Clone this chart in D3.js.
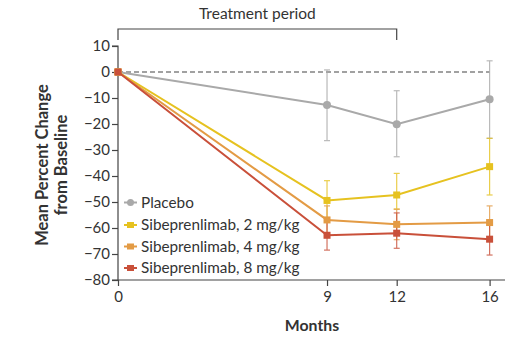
<!DOCTYPE html>
<html><head><meta charset="utf-8">
<script src="https://cdn.jsdelivr.net/npm/d3@7"></script>
<style>body{margin:0;background:#fff}svg{display:block}</style>
</head><body>
<svg id="c" width="517" height="341"></svg>
<script>
const months = [0, 9, 12, 16];
const xTicks = [0, 9, 12, 16];
const yTicks = [10, 0, -10, -20, -30, -40, -50, -60, -70, -80];
const seriesNames = ["Placebo", "Sibeprenlimab, 2 mg/kg", "Sibeprenlimab, 4 mg/kg", "Sibeprenlimab, 8 mg/kg"];
const placebo = [0, -12.7, -20.1, -10.5];
const placeboLo = [0, -26.4, -32.6, -25.5];
const placeboHi = [0, 0.8, -7.2, 4.3];
const mg2 = [0, -49.4, -47.3, -36.4];
const mg2Lo = [0, -57, -52.7, -47.3];
const mg2Hi = [0, -41.8, -39.0, -25.5];
const mg4 = [0, -56.9, -58.6, -57.9];
const mg4Lo = [0, -62.5, -64.5, -64.5];
const mg4Hi = [0, -51.5, -52.8, -51.5];
const mg8 = [0, -62.8, -62.0, -64.3];
const mg8Lo = [0, -68.5, -67.8, -70.4];
const mg8Hi = [0, -57.5, -54.2, -58.5];
const colors = ["#a9a9a9", "#e6c220", "#e39b45", "#c9503a"];

const svg = d3.select("#c");
const x = d3.scaleLinear().domain([0, 16]).range([118, 489.6]);
const y = d3.scaleLinear().domain([10, -80]).range([46, 280]);
const font = "Lato, 'Open Sans', sans-serif";
const axisColor = "#444";

// treatment bracket
svg.append("path").attr("d", `M${x(0)},40V29H${x(12)}V40`).attr("fill","none").attr("stroke",axisColor).attr("stroke-width",1.2);
svg.append("text").attr("x",(x(0)+x(12))/2).attr("y",19).attr("text-anchor","middle")
  .attr("font-family",font).attr("font-size",15.5).attr("fill","#333").text("Treatment period");

// y axis
const yAxis = d3.axisLeft(y).tickValues(yTicks).tickSize(6).tickPadding(2).tickFormat(d => d < 0 ? "\u2212" + Math.abs(d) : d);
const ya = svg.append("g").attr("transform","translate(118,0)").call(yAxis);
ya.select(".domain").attr("d", `M-6,${y(10)}H0V${y(-80)}H-6`).attr("stroke",axisColor).attr("stroke-width",1.2);
ya.selectAll(".tick line").attr("stroke",axisColor).attr("stroke-width",1.2);
ya.selectAll(".tick text").attr("font-family",font).attr("font-size",15).attr("fill","#333");

// x axis
const xAxis = d3.axisBottom(x).tickValues(xTicks).tickSize(6).tickPadding(5);
const xa = svg.append("g").attr("transform",`translate(0,${y(-80)})`).call(xAxis);
xa.select(".domain").attr("d", `M118,0H505`).attr("stroke",axisColor).attr("stroke-width",1.2);
xa.selectAll(".tick line").attr("stroke",axisColor).attr("stroke-width",1.2);
xa.selectAll(".tick text").attr("font-family",font).attr("font-size",15).attr("fill","#333");

// labels
svg.append("text").attr("transform",`translate(48,165) rotate(-90)`).attr("text-anchor","middle")
  .attr("font-family",font).attr("font-weight","bold").attr("font-size",16.5).attr("fill","#333").text("Mean Percent Change");
svg.append("text").attr("transform",`translate(67,165) rotate(-90)`).attr("text-anchor","middle")
  .attr("font-family",font).attr("font-weight","bold").attr("font-size",16.5).attr("fill","#333").text("from Baseline");
svg.append("text").attr("x",312).attr("y",331).attr("text-anchor","middle")
  .attr("font-family",font).attr("font-weight","bold").attr("font-size",15.8).attr("fill","#333").text("Months");

// dashed zero line
svg.append("line").attr("x1",x(0)).attr("x2",x(16)).attr("y1",y(0)).attr("y2",y(0))
  .attr("stroke","#444").attr("stroke-width",1.1).attr("stroke-dasharray","5,3");

const series = [
  {v: placebo, lo: placeboLo, hi: placeboHi},
  {v: mg2, lo: mg2Lo, hi: mg2Hi},
  {v: mg4, lo: mg4Lo, hi: mg4Hi},
  {v: mg8, lo: mg8Lo, hi: mg8Hi}
];
const line = d3.line().x((d,i)=>x(months[i])).y(d=>y(d));

// error bars
series.forEach((s,k)=>{
  const g = svg.append("g").attr("stroke",colors[k]).attr("stroke-width",1.2).attr("opacity",0.8);
  months.forEach((m,i)=>{
    if (i===0) return;
    g.append("line").attr("x1",x(m)).attr("x2",x(m)).attr("y1",y(s.lo[i])).attr("y2",y(s.hi[i]));
    g.append("line").attr("x1",x(m)-3).attr("x2",x(m)+3).attr("y1",y(s.lo[i])).attr("y2",y(s.lo[i]));
    g.append("line").attr("x1",x(m)-3).attr("x2",x(m)+3).attr("y1",y(s.hi[i])).attr("y2",y(s.hi[i]));
  });
});

// lines and markers
series.forEach((s,k)=>{
  svg.append("path").datum(s.v).attr("d",line).attr("fill","none").attr("stroke",colors[k]).attr("stroke-width",2);
  s.v.forEach((d,i)=>{
    if (k===0) svg.append("circle").attr("cx",x(months[i])).attr("cy",y(d)).attr("r",4).attr("fill",colors[k]);
    else svg.append("rect").attr("x",x(months[i])-3.5).attr("y",y(d)-3.5).attr("width",7).attr("height",7).attr("fill",colors[k]);
  });
});

// legend
const ly = [202.5, 225, 246.5, 268];
seriesNames.forEach((n,k)=>{
  const g = svg.append("g").attr("transform",`translate(0,${ly[k]})`);
  g.append("line").attr("x1",124).attr("x2",137).attr("stroke",colors[k]).attr("stroke-width",2);
  if (k===0) g.append("circle").attr("cx",130.5).attr("cy",0).attr("r",3.5).attr("fill",colors[k]);
  else g.append("rect").attr("x",127).attr("y",-3).attr("width",7).attr("height",6).attr("fill",colors[k]);
  g.append("text").attr("x",141).attr("y",5.3).attr("font-family",font).attr("font-size",15.3).attr("fill","#333").text(n);
});
</script>
</body></html>
